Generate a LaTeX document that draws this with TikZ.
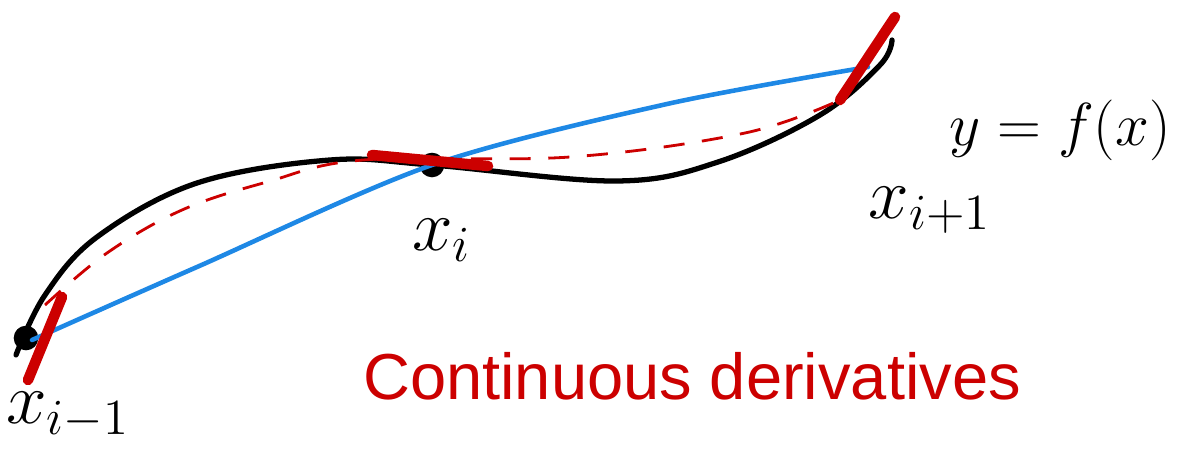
\documentclass[tikz,border=0pt]{standalone}
\usepackage{amsmath,amssymb}
\usepackage{xcolor}
\usepackage{tikz}
\usetikzlibrary{calc}
\usepackage{fontspec}
\setsansfont{Liberation Sans}

\definecolor{sketchred}{RGB}{204,0,0}
\definecolor{sketchblue}{RGB}{30,136,229}

\tikzset{
  fcurve/.style={line width=1.5pt, black, line cap=round},
  chord/.style={line width=1.3pt, sketchblue, line cap=round},
  approx/.style={line width=0.8pt, sketchred, dash pattern=on 6pt off 5pt},
  tangent/.style={line width=3pt, sketchred, line cap=round},
  knot/.style={circle, fill=black, inner sep=0pt, minimum size=7pt},
  ptlabel/.style={font=\huge}
}

\begin{document}
\begin{tikzpicture}
  \useasboundingbox (0,0) rectangle (11.97,-4.5);

  %% Knots
  \node[knot] (xim) at (0.26,-3.38) {};
  \node[knot] (xi) at (4.32,-1.65) {};
  \coordinate (xip) at (8.86,-0.55);

  %% The function f
  \draw[fcurve] plot[smooth, tension=0.6] coordinates {
    (0.16,-3.55) (0.45,-2.95) (0.97,-2.37) (1.97,-1.83) (3.30,-1.60)
    (4.32,-1.65) (6.16,-1.81) (7.18,-1.62) (8.20,-1.15) (8.80,-0.65) (8.92,-0.40)};

  %% Chords through the knots
  \draw[chord] plot[smooth, tension=0.5] coordinates {
    (0.32,-3.40) (1.97,-2.67) (4.32,-1.65) (6.67,-1.04) (8.68,-0.67)};

  %% Spline approximation
  \draw[approx] plot[smooth, tension=0.6] coordinates {
    (0.45,-3.05) (1.07,-2.53) (1.82,-2.10) (2.67,-1.82) (3.63,-1.60)
    (5.70,-1.57) (7.45,-1.33) (8.40,-1.00)};

  %% Tangents at the knots
  \draw[tangent] ($(xim.center)+(0.02,-0.42)$) -- ($(xim.center)+(0.36,0.41)$);
  \draw[tangent] ($(xi.center)+(-0.60,0.10)$) -- ($(xi.center)+(0.56,-0.01)$);
  \draw[tangent] ($(xip)+(-0.46,-0.45)$) -- ($(xip)+(0.09,0.38)$);

  %% Labels
  \node[ptlabel] (lxim) at (0.68,-4.15) {$x_{i-1}$};
  \node[ptlabel] (lxi) at (4.42,-2.40) {$x_i$};
  \node[ptlabel] (lxip) at (9.30,-2.10) {$x_{i+1}$};
  \node[font=\LARGE] (fx) at (10.60,-1.30) {$y=f(x)$};
  \node[font=\sffamily\fontsize{18.5}{22}\selectfont, text=sketchred] (cd)
    at (6.92,-3.76) {Continuous derivatives};
\end{tikzpicture}
\end{document}
